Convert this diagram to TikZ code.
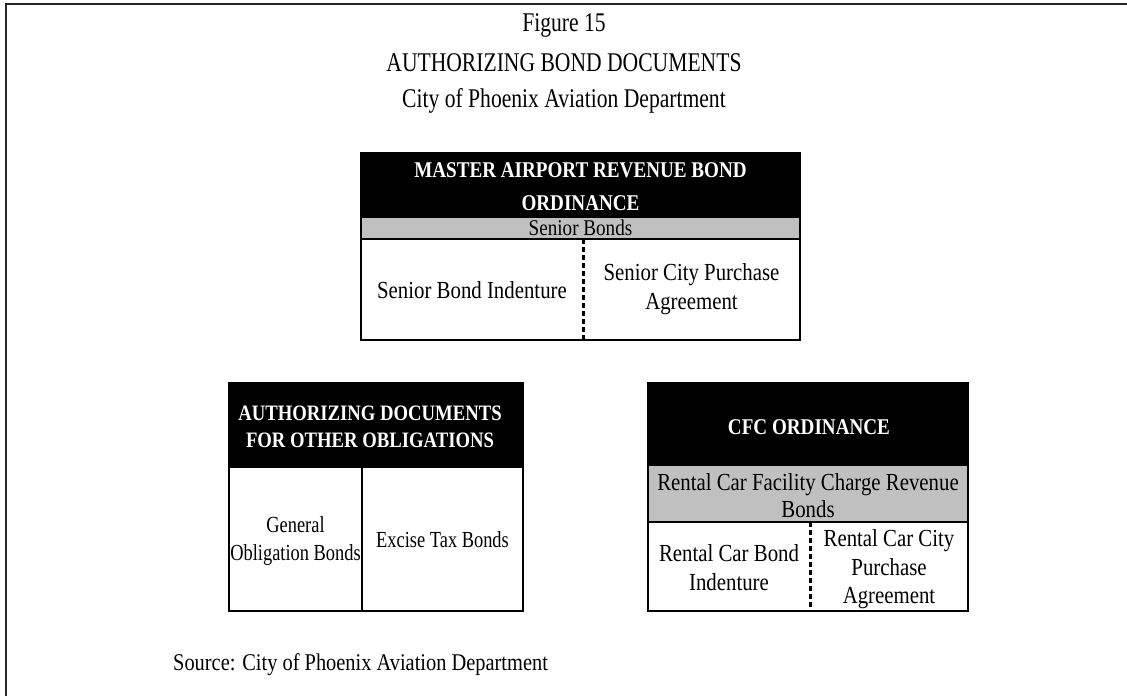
\documentclass[tikz,border=0pt]{standalone}
\usepackage{fontspec}
\setmainfont[FakeStretch=0.85]{Liberation Serif}
\newfontfamily\titlefamily[FakeStretch=0.8]{Liberation Serif}
\newfontfamily\narrowfamily[FakeStretch=0.8]{Liberation Serif}
\usetikzlibrary{fit}
\definecolor{bandgray}{RGB}{192,192,192}
\begin{document}
\begin{tikzpicture}[x=1pt,y=-1pt,
  region/.style={inner sep=0pt, outer sep=0pt, draw=none},
  hdr/.style={region, fill=black},
  band/.style={region, fill=bandgray},
  cell/.style={region, fill=white},
  hdrtxt/.style={text=white, inner sep=0pt, align=center, font=\fontsize{22.5}{#1}\selectfont\bfseries},
  hdrtxt/.default=30,
  bodytxt/.style={inner sep=0pt, align=center, font=\fontsize{24.5}{#1}\selectfont},
  bodytxt/.default=29,
  smalltxt/.style={inner sep=0pt, align=center, font=\narrowfamily\fontsize{23}{#1}\selectfont},
  smalltxt/.default=28,
  titletxt/.style={inner sep=0pt, anchor=base, font=\titlefamily\fontsize{27}{30}\selectfont},
  boxline/.style={line width=2.4pt, line join=miter},
  bandline/.style={line width=1.6pt},
  soliddiv/.style={line width=2.2pt},
  dashdiv/.style={line width=3pt, dash pattern=on 5pt off 3pt},
  frameline/.style={line width=2pt, black!85}
]
\useasboundingbox (0,0) rectangle (1127,696);
\fill[white] (0,0) rectangle (1127,696);

% outer frame (left and top)
\coordinate (fbl) at (6,696);
\coordinate (ftl) at (6,4);
\coordinate (ftr) at (1127,4);
\draw[frameline] (fbl) -- (ftl) -- (ftr);

% title
\node[titletxt] (t1) at (564,31) {Figure 15};
\node[titletxt] (t2) at (564,71.5) {AUTHORIZING BOND DOCUMENTS};
\node[titletxt] (t3) at (564,107.5) {City of Phoenix Aviation Department};

% ---- Box 1: Master Airport Revenue Bond Ordinance
\node[hdr, fit={(361,153) (800,218)}] (h1) {};
\node[band, fit={(361,218) (800,239)}] (b1) {};
\node[cell, fit={(361,239) (583,340)}] (c1l) {};
\node[cell, fit={(583,239) (800,340)}] (c1r) {};
\node[hdrtxt=33] (h1t) at (580.5,187) {MASTER AIRPORT REVENUE BOND\\ORDINANCE};
\node[bodytxt, anchor=base, font=\fontsize{22.5}{26}\selectfont] (b1t) at (580.5,235.5) {Senior Bonds};
\node[bodytxt] (c1lt) at (472,290) {Senior Bond Indenture};
\node[bodytxt] (c1rt) at (691.5,289) {Senior City Purchase\\Agreement};
\draw[bandline] (b1.south west) -- (b1.south east);
\draw[dashdiv] (c1l.north east) -- (c1l.south east);
\draw[boxline] (h1.north west) rectangle (c1r.south east);

% ---- Box 2: Authorizing documents for other obligations
\node[hdr, fit={(229,383) (523,468)}] (h2) {};
\node[cell, fit={(229,468) (362,611)}] (c2l) {};
\node[cell, fit={(362,468) (523,611)}] (c2r) {};
\node[hdrtxt=27, font=\fontsize{22}{27}\selectfont\bfseries] (h2t) at (370,426.5) {AUTHORIZING DOCUMENTS\\FOR OTHER OBLIGATIONS};
\node[smalltxt] (c2lt) at (295.5,541) {General\\Obligation Bonds};
\node[smalltxt] (c2rt) at (442.5,540) {Excise Tax Bonds};
\draw[soliddiv] (c2l.north east) -- (c2l.south east);
\draw[boxline] (h2.north west) rectangle (c2r.south east);

% ---- Box 3: CFC Ordinance
\node[hdr, fit={(648,383) (968,466)}] (h3) {};
\node[band, fit={(648,466) (968,522)}] (b3) {};
\node[cell, fit={(648,522) (810,611)}] (c3l) {};
\node[cell, fit={(810,522) (968,611)}] (c3r) {};
\node[hdrtxt] (h3t) at (809,427) {CFC ORDINANCE};
\node[bodytxt=27] (b3t) at (808,495.5) {Rental Car Facility Charge Revenue\\Bonds};
\node[bodytxt] (c3lt) at (729,567.5) {Rental Car Bond\\Indenture};
\node[bodytxt=28.5] (c3rt) at (889,569.5) {Rental Car City\\Purchase\\Agreement};
\draw[bandline] (b3.south west) -- (b3.south east);
\draw[dashdiv] (c3l.north east) -- (c3l.south east);
\draw[boxline] (h3.north west) rectangle (c3r.south east);

% source
\node[inner sep=0pt, anchor=base west, font=\fontsize{24}{28}\selectfont] (src) at (173,670) {Source: City of Phoenix Aviation Department};
\end{tikzpicture}
\end{document}
